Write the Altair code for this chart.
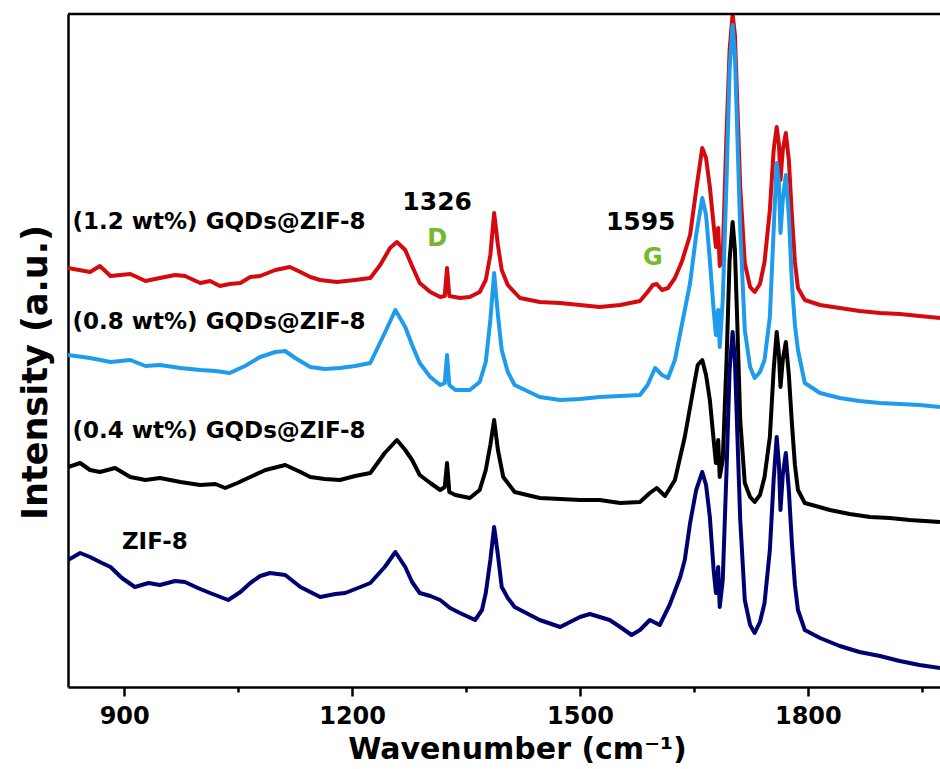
import altair as alt
import pandas as pd

# ---- data (wavenumber in cm-1, intensity in arbitrary units) ----
red_wn = [826, 855, 868, 882, 908, 928, 947, 967, 980, 1000, 1013, 1026, 1039, 1053, 1066, 1079, 1099, 1118, 1132, 1145,
          1158, 1180, 1204, 1224, 1237, 1250, 1259, 1270, 1279, 1289, 1303, 1316, 1322, 1325, 1328, 1342, 1355, 1368, 1376, 1382,
          1387, 1392, 1397, 1405, 1421, 1447, 1474, 1500, 1526, 1553, 1579, 1589, 1596, 1601, 1608, 1616, 1625, 1634, 1645, 1653,
          1661, 1666, 1671, 1676, 1679, 1682, 1684, 1688, 1693, 1697, 1701, 1704, 1707, 1711, 1717, 1724, 1730, 1737, 1743, 1750,
          1755, 1759, 1762, 1764, 1767, 1771, 1775, 1779, 1783, 1787, 1796, 1816, 1842, 1868, 1895, 1921, 1947, 1974]
red_int = [419, 415, 421, 411, 413, 406, 409, 412, 411, 404, 406, 401, 403, 404, 410, 411, 417, 420, 415, 410,
           407, 405, 407, 409, 422, 439, 445, 437, 421, 404, 395, 390, 391, 419, 391, 389, 390, 395, 407, 432,
           474, 442, 417, 402, 389, 385, 384, 382, 380, 382, 386, 395, 402, 403, 397, 399, 409, 425, 452, 497,
           539, 529, 500, 462, 440, 459, 421, 432, 554, 637, 673, 652, 587, 500, 424, 400, 395, 403, 425, 477,
           537, 560, 542, 507, 537, 554, 527, 472, 425, 399, 387, 382, 379, 376, 374, 373, 371, 369]

blue_wn = [826, 855, 882, 908, 928, 947, 974, 1000, 1020, 1039, 1059, 1079, 1099, 1112, 1125, 1145, 1164, 1184, 1204, 1224,
           1243, 1257, 1270, 1279, 1289, 1303, 1316, 1322, 1325, 1328, 1336, 1355, 1368, 1376, 1382, 1387, 1392, 1397, 1405, 1414,
           1447, 1474, 1500, 1526, 1553, 1579, 1589, 1599, 1608, 1616, 1625, 1632, 1638, 1645, 1653, 1661, 1666, 1671, 1676, 1679,
           1682, 1684, 1688, 1693, 1697, 1701, 1704, 1707, 1711, 1717, 1724, 1730, 1737, 1743, 1750, 1755, 1759, 1762, 1764, 1767,
           1771, 1775, 1779, 1783, 1787, 1796, 1816, 1842, 1868, 1895, 1921, 1947, 1974]
blue_int = [332, 329, 325, 327, 321, 322, 319, 317, 316, 314, 321, 330, 335, 336, 329, 320, 318, 319, 321, 324,
            354, 377, 360, 342, 324, 310, 302, 304, 332, 302, 297, 297, 305, 325, 367, 414, 372, 337, 315, 302,
            290, 287, 288, 290, 291, 292, 302, 319, 312, 309, 327, 354, 377, 404, 452, 489, 472, 427, 377, 352,
            377, 340, 387, 507, 617, 662, 632, 557, 457, 357, 320, 309, 315, 327, 370, 457, 524, 502, 454, 487,
            512, 472, 404, 362, 337, 304, 294, 289, 286, 284, 283, 282, 280]

black_wn = [826, 842, 855, 868, 888, 908, 928, 947, 974, 1000, 1020, 1033, 1049, 1066, 1086, 1112, 1132, 1145, 1164, 1184,
            1204, 1224, 1243, 1259, 1270, 1279, 1289, 1303, 1316, 1322, 1325, 1328, 1336, 1355, 1368, 1376, 1382, 1387, 1392, 1399,
            1414, 1447, 1474, 1500, 1526, 1553, 1579, 1592, 1601, 1612, 1625, 1638, 1649, 1655, 1661, 1666, 1671, 1676, 1679, 1682,
            1684, 1688, 1693, 1697, 1701, 1704, 1707, 1711, 1717, 1724, 1730, 1737, 1743, 1750, 1755, 1759, 1762, 1764, 1767, 1771,
            1775, 1779, 1783, 1787, 1796, 1829, 1855, 1882, 1908, 1934, 1974]
black_int = [220, 224, 217, 215, 219, 210, 207, 209, 205, 202, 203, 199, 204, 210, 217, 222, 215, 210, 208, 207,
             211, 214, 234, 247, 237, 227, 212, 204, 197, 200, 224, 195, 192, 189, 197, 217, 242, 267, 237, 210,
             195, 189, 188, 187, 187, 184, 185, 194, 199, 191, 207, 250, 297, 322, 327, 312, 287, 247, 224, 247,
             210, 227, 327, 427, 465, 437, 367, 267, 204, 190, 185, 192, 210, 250, 317, 355, 332, 300, 327, 345,
             312, 264, 222, 197, 184, 177, 173, 170, 169, 167, 165]

navy_wn = [826, 842, 855, 868, 882, 897, 914, 932, 947, 967, 980, 997, 1013, 1037, 1053, 1066, 1079, 1092, 1112, 1132,
           1158, 1178, 1191, 1211, 1224, 1243, 1257, 1270, 1279, 1289, 1303, 1316, 1329, 1342, 1362, 1371, 1376, 1382, 1387, 1392,
           1397, 1405, 1414, 1447, 1474, 1487, 1500, 1513, 1526, 1539, 1553, 1568, 1579, 1592, 1605, 1618, 1632, 1638, 1645, 1653,
           1661, 1666, 1671, 1676, 1679, 1682, 1684, 1688, 1693, 1697, 1701, 1704, 1707, 1711, 1717, 1724, 1730, 1737, 1743, 1750,
           1755, 1759, 1762, 1764, 1767, 1771, 1775, 1779, 1783, 1787, 1796, 1816, 1842, 1868, 1895, 1921, 1947, 1974]
navy_int = [127, 134, 130, 125, 120, 109, 100, 104, 102, 106, 105, 99, 94, 87, 95, 104, 111, 114, 112, 100,
            90, 93, 94, 100, 104, 120, 135, 120, 105, 94, 91, 87, 79, 74, 67, 77, 94, 127, 160, 132,
            100, 89, 80, 67, 60, 65, 70, 73, 70, 67, 60, 52, 57, 67, 62, 82, 110, 127, 164, 197,
            215, 202, 170, 117, 94, 120, 80, 107, 217, 317, 355, 327, 257, 167, 87, 62, 54, 65, 84, 137,
            207, 250, 222, 177, 212, 234, 197, 144, 102, 77, 57, 49, 41, 35, 31, 26, 22, 19]

series_colors = ["#d40a0f", "#1f9bec", "#000000", "#000070"]

# annotations
label_text = ["(1.2 wt%) GQDs@ZIF-8", "(0.8 wt%) GQDs@ZIF-8", "(0.4 wt%) GQDs@ZIF-8", "ZIF-8", "1326", "1595"]
label_wn = [832, 832, 832, 897, 1312, 1580]
label_int = [465, 365, 256, 145, 485, 465]
label_align = ["left", "left", "left", "left", "center", "center"]
band_text = ["D", "G"]
band_wn = [1312, 1596]
band_int = [448, 429]

x_ticks = [900, 1050, 1200, 1350, 1500, 1650, 1800, 1950]

W, H = 872, 673
FONT = "DejaVu Sans"

xscale = alt.Scale(domain=[826, 1974], nice=False, zero=False)
yscale = alt.Scale(domain=[0, 673], nice=False, zero=False)

x_axis = alt.Axis(
    values=x_ticks,
    labelExpr="datum.value % 300 == 0 ? datum.label : ''",
    format="d",
    grid=False,
    domainColor="black", domainWidth=2.5,
    tickColor="black", tickWidth=2.5,
    tickSize={"condition": {"test": "datum.value % 300 == 0", "value": 9}, "value": 5},
    labelFont=FONT, labelFontWeight="bold", labelFontSize=24, labelColor="black",
    labelPadding=8,
    title="Wavenumber (cm⁻¹)",
    titleFont=FONT, titleFontWeight="bold", titleFontSize=30, titleColor="black",
    titleX=449, titleY=62, titleBaseline="middle", titleAnchor="middle", titleAlign="center",
)
y_axis = alt.Axis(
    labels=False, ticks=False, grid=False,
    domainColor="black", domainWidth=2.5,
    title="Intensity (a.u.)",
    titleFont=FONT, titleFontWeight="bold", titleFontSize=35, titleColor="black",
    titleAngle=270, titleX=-33, titleY=358, titleBaseline="middle", titleAlign="center",
)

layers = []
all_series = [(red_wn, red_int), (blue_wn, blue_int), (black_wn, black_int), (navy_wn, navy_int)]
for i, (wn, inten) in enumerate(all_series):
    df = pd.DataFrame({"wn": wn, "I": inten, "order": list(range(len(wn)))})
    if i == 0:
        xenc = alt.X("wn:Q", scale=xscale, axis=x_axis)
        yenc = alt.Y("I:Q", scale=yscale, axis=y_axis)
    else:
        xenc = alt.X("wn:Q", scale=xscale)
        yenc = alt.Y("I:Q", scale=yscale)
    ln = alt.Chart(df).mark_line(
        color=series_colors[i], strokeWidth=4, strokeJoin="round", clip=True
    ).encode(x=xenc, y=yenc, order="order:Q")
    layers.append(ln)

lab_df = pd.DataFrame({"t": label_text, "wn": label_wn, "I": label_int, "al": label_align})
for al in ["left", "center"]:
    sub = lab_df[lab_df["al"] == al]
    layers.append(
        alt.Chart(sub).mark_text(
            font=FONT, fontWeight="bold", fontSize=23 if al == "left" else 25,
            align=al, baseline="middle", color="black"
        ).encode(x=alt.X("wn:Q", scale=xscale), y=alt.Y("I:Q", scale=yscale), text="t:N")
    )

band_df = pd.DataFrame({"t": band_text, "wn": band_wn, "I": band_int})
layers.append(
    alt.Chart(band_df).mark_text(
        font=FONT, fontWeight="bold", fontSize=24, align="center", baseline="middle", color="#76b82a"
    ).encode(x=alt.X("wn:Q", scale=xscale), y=alt.Y("I:Q", scale=yscale), text="t:N")
)

# top frame line
layers.append(
    alt.Chart(pd.DataFrame({"a": [0]})).mark_rule(color="black", strokeWidth=2.5).encode(
        x=alt.value(0), x2=alt.value(W), y=alt.value(0)
    )
)

chart = alt.layer(*layers).properties(
    width=W, height=H,
    autosize=alt.AutoSizeParams(type="none"),
    padding={"left": 68, "top": 14, "right": 0, "bottom": 82},
    background="white",
).configure_view(stroke=None)

chart.save("out.html", embed_options={"renderer": "svg", "actions": False})
